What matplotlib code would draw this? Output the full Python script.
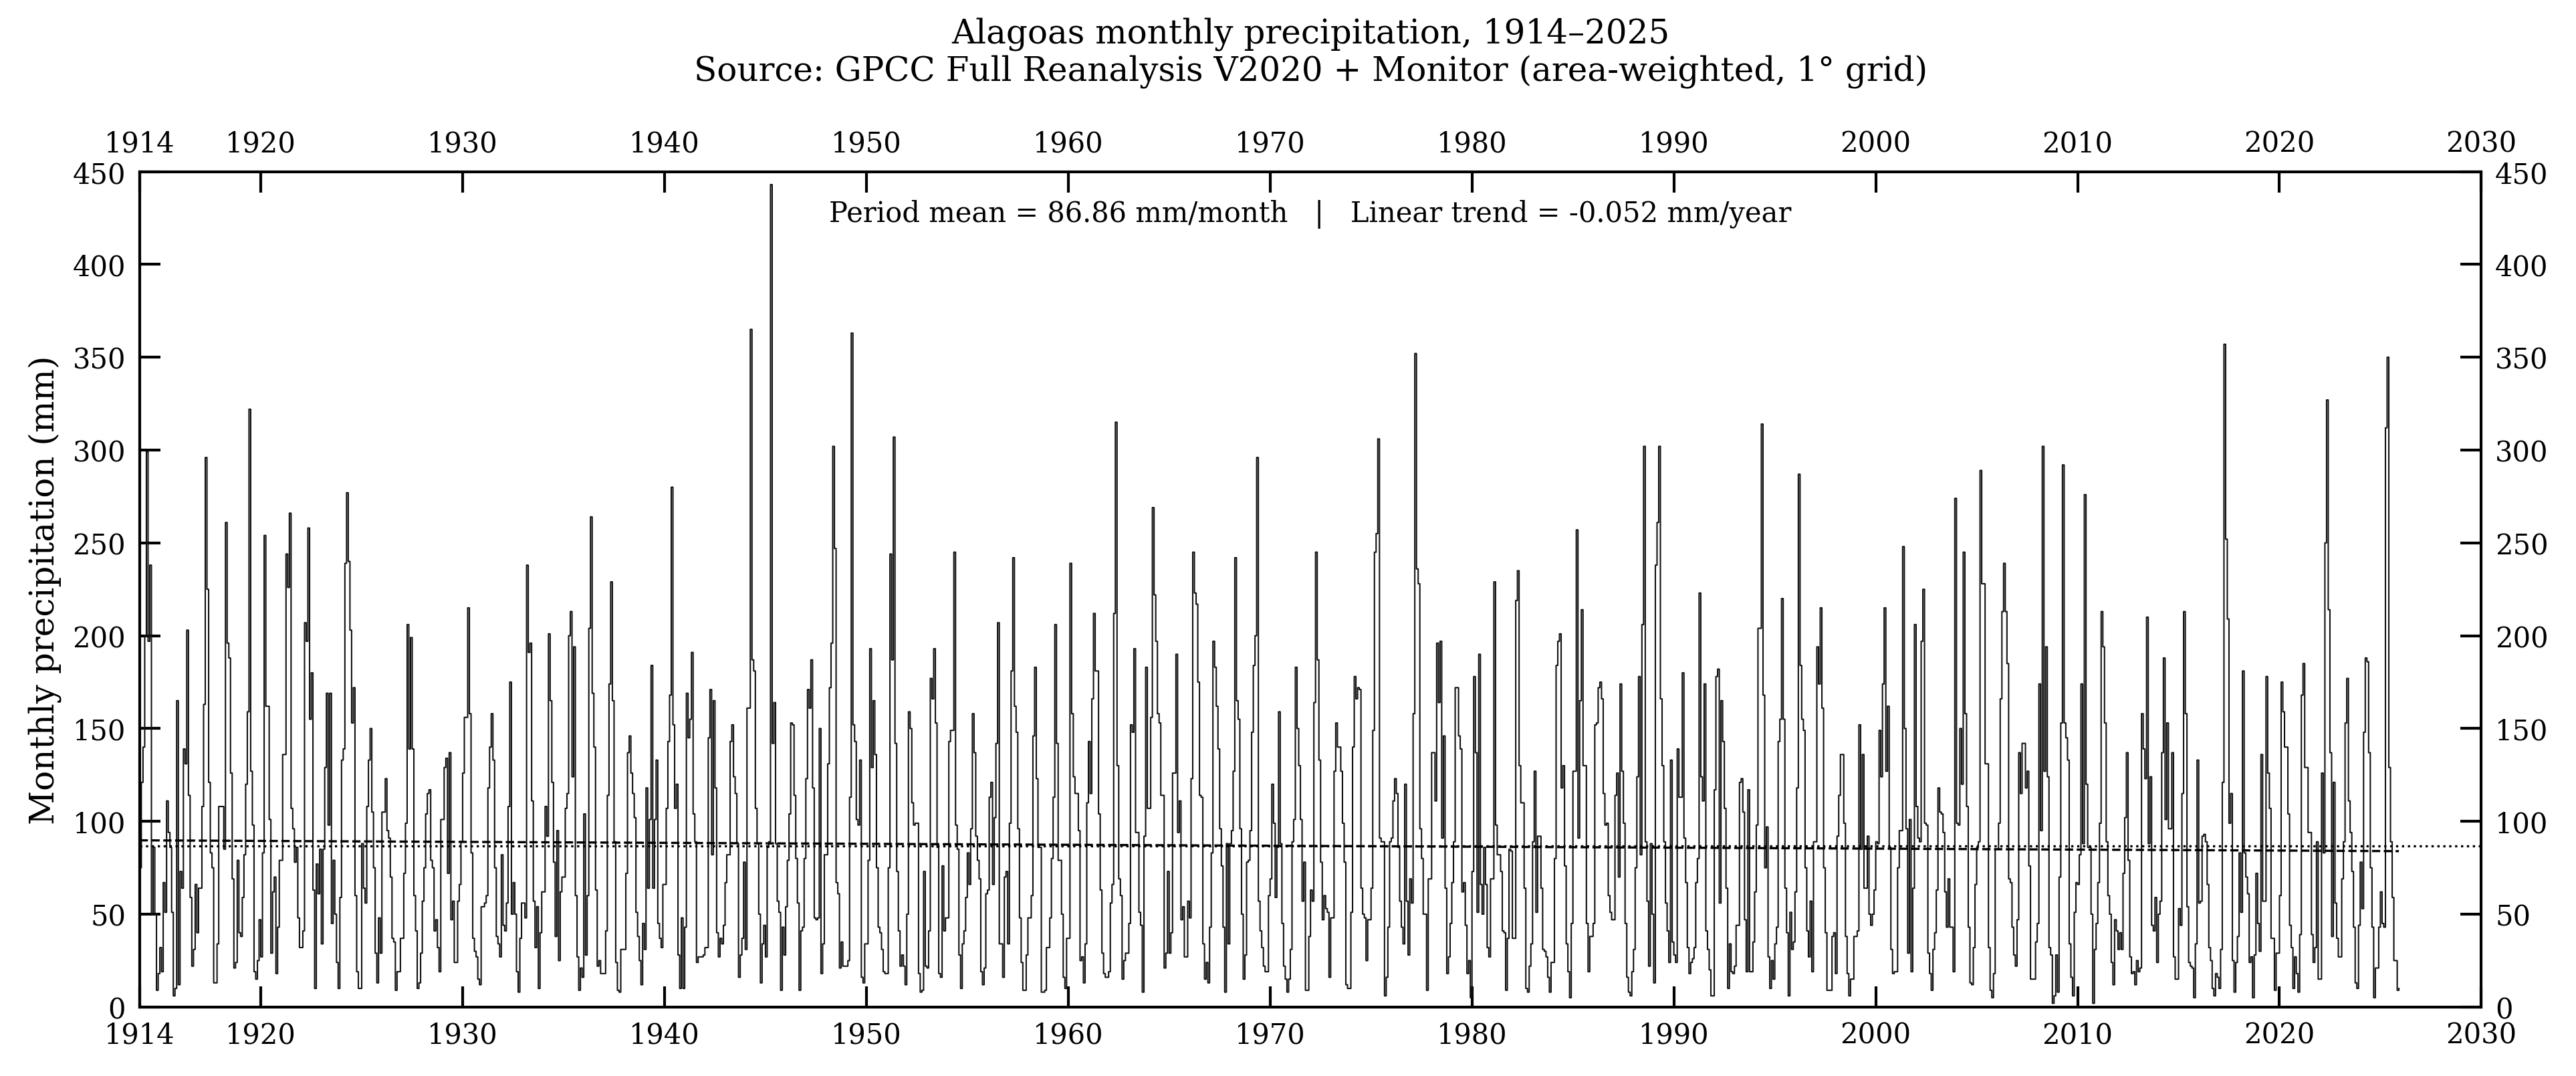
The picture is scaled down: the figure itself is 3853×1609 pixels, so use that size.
import numpy as np
import matplotlib
matplotlib.use("Agg")
import matplotlib.pyplot as plt

plt.rcParams['font.family'] = ['DejaVu Serif']

# monthly precipitation (mm), one row per year
p1910s = [
    [75, 121, 140, 200, 299, 197, 238, 50, 86, 50, 9, 18],      # 1914
    [32, 19, 67, 51, 111, 94, 86, 51, 6, 10, 165, 12],
    [73, 64, 139, 131, 203, 114, 59, 22, 31, 66, 40, 64],
    [64, 108, 163, 296, 225, 121, 83, 75, 13, 13, 34, 108],
    [108, 108, 85, 261, 196, 188, 126, 69, 21, 24, 79, 40],
    [38, 59, 82, 120, 159, 322, 127, 98, 19, 15, 25, 47],
]
p1920s = [
    [27, 83, 254, 162, 162, 101, 29, 62, 70, 18, 43, 79],
    [79, 136, 136, 244, 226, 266, 107, 96, 78, 86, 48, 32],
    [32, 41, 207, 197, 258, 155, 180, 63, 10, 77, 61, 85],
    [34, 85, 129, 169, 98, 169, 45, 79, 50, 24, 10, 59],
    [133, 139, 239, 277, 240, 203, 153, 172, 60, 19, 10, 10],
    [88, 64, 56, 108, 133, 150, 105, 75, 29, 13, 48, 29],
    [105, 105, 123, 95, 91, 70, 37, 35, 9, 19, 19, 37],
    [37, 72, 99, 206, 139, 199, 139, 60, 41, 10, 13, 29],
    [57, 75, 104, 115, 117, 79, 75, 41, 47, 32, 19, 101],
    [101, 129, 134, 72, 137, 47, 57, 24, 24, 57, 66, 89],
]
p1930s = [
    [126, 156, 156, 215, 158, 83, 37, 30, 27, 15, 12, 54],
    [54, 56, 60, 118, 140, 158, 133, 75, 38, 34, 27, 82],
    [44, 41, 56, 108, 175, 50, 67, 50, 19, 8, 37, 56],
    [56, 48, 238, 191, 196, 111, 57, 32, 54, 10, 40, 62],
    [62, 108, 92, 201, 165, 121, 78, 38, 95, 25, 62, 70],
    [70, 107, 115, 200, 213, 124, 194, 60, 27, 9, 21, 16],
    [104, 28, 60, 204, 264, 169, 140, 63, 22, 25, 18, 18],
    [18, 41, 114, 174, 229, 165, 89, 24, 9, 8, 31, 31],
    [31, 72, 137, 146, 126, 115, 102, 51, 38, 25, 12, 45],
    [31, 118, 64, 101, 184, 64, 101, 133, 45, 37, 32, 66],
]
p1940s = [
    [66, 107, 143, 168, 280, 152, 107, 120, 28, 10, 48, 10],
    [43, 169, 145, 155, 191, 104, 89, 24, 27, 27, 27, 28],
    [32, 32, 145, 171, 82, 165, 118, 40, 27, 37, 34, 44],
    [67, 82, 82, 143, 152, 124, 115, 88, 16, 28, 37, 78],
    [31, 161, 161, 365, 187, 181, 107, 88, 50, 13, 34, 44],
    [27, 86, 89, 443, 142, 164, 88, 57, 51, 9, 43, 28],
    [54, 79, 104, 153, 152, 114, 80, 56, 9, 41, 43, 80],
    [123, 171, 161, 187, 118, 48, 47, 48, 150, 18, 34, 82],
    [82, 131, 172, 196, 302, 247, 67, 61, 21, 35, 22, 22],
    [22, 25, 113, 363, 152, 143, 101, 98, 133, 16, 13, 34],
]
p1950s = [
    [34, 79, 193, 129, 165, 136, 75, 43, 40, 31, 19, 18],
    [18, 75, 244, 187, 307, 142, 73, 41, 22, 28, 22, 12],
    [50, 159, 150, 110, 98, 99, 99, 18, 8, 9, 73, 22],
    [21, 41, 177, 166, 193, 153, 86, 18, 16, 76, 41, 48],
    [48, 143, 149, 149, 245, 98, 85, 28, 10, 34, 41, 59],
    [83, 66, 96, 158, 137, 92, 79, 69, 19, 12, 21, 61],
    [63, 113, 121, 66, 102, 142, 207, 34, 34, 16, 70, 73],
    [34, 99, 181, 242, 162, 148, 96, 48, 24, 9, 9, 28],
    [48, 48, 60, 146, 183, 123, 86, 86, 8, 8, 9, 32],
    [32, 48, 80, 113, 206, 142, 79, 79, 50, 16, 10, 37],
]
p1960s = [
    [37, 239, 158, 124, 115, 115, 95, 25, 27, 13, 34, 110],
    [143, 115, 166, 212, 181, 181, 104, 63, 29, 18, 16, 16],
    [19, 56, 66, 212, 315, 130, 69, 60, 15, 25, 29, 29],
    [45, 152, 148, 193, 94, 94, 51, 44, 8, 92, 183, 107],
    [107, 156, 269, 222, 197, 158, 153, 114, 114, 21, 29, 73],
    [29, 40, 126, 126, 190, 94, 111, 47, 54, 27, 27, 57],
    [48, 123, 245, 223, 217, 175, 114, 113, 34, 15, 24, 13],
    [43, 83, 197, 183, 162, 139, 96, 76, 43, 8, 88, 34],
    [88, 95, 127, 242, 165, 155, 96, 50, 15, 28, 78, 79],
    [95, 148, 184, 200, 296, 57, 41, 32, 22, 19, 19, 60],
]
p1970s = [
    [69, 120, 99, 59, 86, 159, 88, 45, 22, 15, 8, 15],
    [31, 89, 101, 183, 150, 130, 101, 57, 78, 9, 9, 38],
    [63, 57, 164, 245, 187, 133, 78, 47, 60, 53, 51, 16],
    [48, 48, 127, 153, 140, 140, 127, 99, 78, 12, 10, 10],
    [51, 140, 178, 166, 172, 171, 64, 50, 48, 25, 47, 47],
    [64, 149, 245, 255, 306, 91, 89, 89, 6, 16, 43, 89],
    [91, 111, 123, 115, 86, 57, 43, 34, 120, 57, 28, 69],
    [56, 158, 352, 236, 228, 96, 80, 50, 50, 9, 69, 69],
    [137, 137, 111, 196, 164, 197, 91, 146, 64, 18, 27, 45],
    [67, 89, 172, 172, 146, 139, 62, 67, 44, 18, 25, 5],
]
p1980s = [
    [73, 178, 137, 51, 190, 66, 50, 86, 66, 32, 27, 69],
    [69, 229, 98, 82, 82, 73, 41, 40, 9, 37, 85, 84],
    [37, 37, 219, 235, 130, 110, 110, 64, 10, 8, 22, 34],
    [89, 127, 51, 92, 92, 64, 31, 30, 27, 16, 8, 24],
    [24, 80, 184, 197, 201, 118, 130, 76, 34, 19, 5, 45],
    [127, 127, 257, 91, 165, 214, 130, 130, 45, 19, 38, 38],
    [45, 152, 153, 172, 175, 166, 115, 98, 99, 60, 51, 47],
    [47, 114, 126, 70, 174, 127, 99, 45, 16, 8, 6, 19],
    [31, 75, 124, 178, 82, 206, 302, 89, 57, 22, 88, 50],
    [13, 238, 261, 302, 166, 130, 89, 56, 41, 24, 133, 35],
]
p1990s = [
    [28, 24, 139, 113, 113, 180, 91, 67, 32, 18, 24, 26],
    [32, 67, 80, 223, 124, 111, 174, 41, 31, 20, 6, 6],
    [117, 178, 182, 56, 165, 143, 107, 64, 10, 34, 19, 18],
    [22, 44, 44, 121, 123, 105, 47, 19, 117, 19, 19, 35],
    [62, 98, 204, 204, 314, 168, 75, 97, 27, 10, 25, 15],
    [34, 43, 143, 155, 220, 155, 64, 40, 6, 51, 31, 35],
    [62, 118, 287, 184, 155, 149, 75, 41, 27, 57, 19, 89],
    [89, 194, 174, 215, 161, 75, 40, 9, 9, 9, 38, 40],
    [18, 92, 114, 136, 136, 99, 38, 18, 6, 15, 15, 38],
    [38, 41, 152, 85, 136, 64, 64, 92, 50, 44, 50, 63],
]
p2000s = [
    [89, 88, 149, 124, 174, 215, 127, 162, 86, 31, 18, 19],
    [19, 75, 95, 95, 248, 150, 96, 29, 101, 19, 64, 206],
    [108, 91, 89, 197, 225, 99, 98, 29, 18, 9, 31, 40],
    [63, 118, 105, 104, 94, 62, 43, 69, 43, 43, 19, 274],
    [99, 98, 150, 120, 245, 158, 108, 43, 13, 12, 32, 66],
    [86, 89, 289, 228, 228, 131, 131, 32, 9, 5, 18, 85],
    [85, 99, 166, 213, 239, 213, 185, 69, 67, 43, 28, 22],
    [47, 137, 115, 142, 142, 118, 127, 76, 15, 15, 15, 35],
    [45, 174, 95, 302, 127, 194, 124, 32, 28, 2, 6, 28],
    [8, 70, 153, 292, 153, 145, 133, 34, 16, 6, 51, 67],
]
p2010s = [
    [66, 82, 174, 88, 276, 120, 86, 86, 50, 2, 31, 45],
    [67, 99, 213, 194, 153, 89, 60, 50, 24, 12, 47, 41],
    [31, 40, 31, 72, 102, 137, 79, 27, 18, 19, 12, 25],
    [19, 21, 158, 139, 123, 210, 88, 124, 44, 41, 59, 24],
    [50, 57, 137, 188, 101, 153, 96, 96, 137, 27, 15, 15],
    [53, 44, 115, 213, 158, 54, 24, 22, 21, 5, 34, 133],
    [56, 57, 92, 93, 89, 66, 32, 25, 10, 6, 18, 16],
    [10, 31, 121, 357, 252, 209, 99, 115, 25, 8, 24, 38],
    [83, 51, 181, 83, 70, 61, 24, 27, 5, 28, 72, 45],
    [30, 136, 57, 57, 178, 126, 107, 37, 37, 9, 29, 29],
]
p2020s = [
    [60, 175, 159, 140, 140, 104, 44, 32, 10, 27, 18, 8],
    [39, 168, 185, 129, 129, 94, 94, 39, 24, 32, 89, 15],
    [15, 126, 83, 250, 327, 214, 137, 38, 121, 56, 37, 27],
    [27, 69, 89, 153, 177, 111, 94, 73, 43, 13, 10, 44],
    [78, 53, 148, 188, 186, 137, 75, 43, 5, 21, 21, 43],
    [62, 45, 43, 312, 350, 129, 89, 59, 25, 25, 9, 10],   # 2025
]

# summary values printed on the chart
period_mean = 86.86     # mm/month
trend_slope = -0.052    # mm/year

xticks = [1914, 1920, 1930, 1940, 1950, 1960, 1970, 1980, 1990, 2000, 2010, 2020, 2030]

decades = [p1910s, p1920s, p1930s, p1940s, p1950s, p1960s,
           p1970s, p1980s, p1990s, p2000s, p2010s, p2020s]
precip = np.concatenate([np.ravel(d) for d in decades]).astype(float)
t = 1914 + np.arange(len(precip)) / 12.0

fig = plt.figure(figsize=(3854 / 300, 1610 / 300), dpi=300)
ax = fig.add_axes([0.0542, 0.0641, 0.9088, 0.7759])

ax.step(t, precip, where='post', color='#111111', lw=0.5)
ax.axhline(period_mean, ls=':', color='black', lw=0.8)
t_line = np.array([t[0], t[-1]])
ax.plot(t_line, period_mean + trend_slope * (t_line - t.mean()),
        ls='--', color='black', lw=0.8)

ax.set_xlim(1914, 2030)
ax.set_ylim(0, 450)
ax.set_xticks(xticks)
ax.set_yticks(np.arange(0, 451, 50))
ax.tick_params(direction='in', top=True, right=True, labeltop=True,
               labelright=True, length=7.5, width=1.0, labelsize=10, pad=5)
for s in ax.spines.values():
    s.set_linewidth(1.0)

ax.set_ylabel('Monthly precipitation (mm)', fontsize=12, labelpad=4)
ax.text(0.5, 0.95,
        'Period mean = 86.86 mm/month   |   Linear trend = -0.052 mm/year',
        transform=ax.transAxes, ha='center', va='center', fontsize=10)

fig.text(0.5086, 0.951,
         'Alagoas monthly precipitation, 1914\u20132025\n'
         'Source: GPCC Full Reanalysis V2020 + Monitor (area-weighted, 1\u00b0 grid)',
         ha='center', va='center', fontsize=12, linespacing=1.15)

fig.savefig('out.png', dpi=300)
